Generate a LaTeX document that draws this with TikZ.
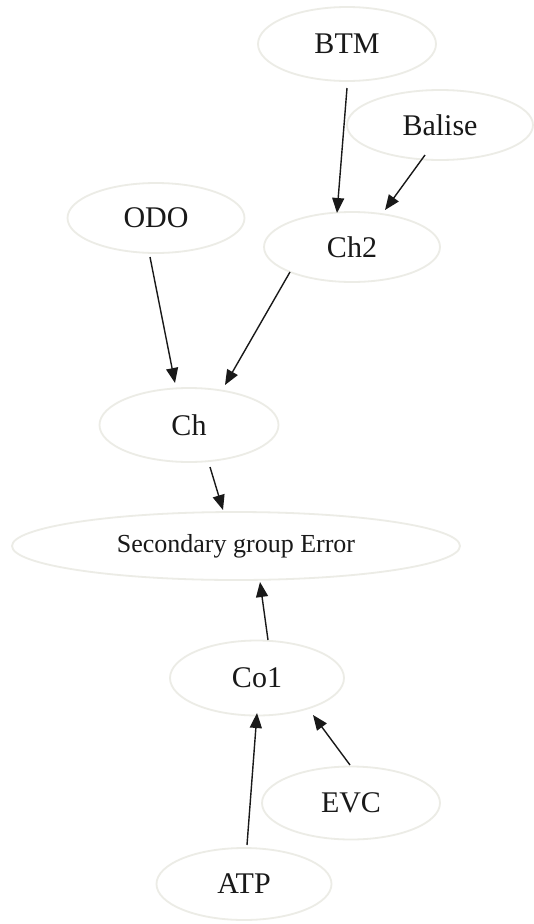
\documentclass[tikz,border=0pt]{standalone}
\usepackage{fontspec}
\setmainfont{Liberation Serif}
\usetikzlibrary{shapes.geometric,arrows.meta,calc}
\definecolor{ellcol}{RGB}{236,236,230}
\definecolor{txtcol}{RGB}{25,25,25}
\tikzset{
  ell/.style={ellipse, draw=ellcol, line width=1.8pt, inner sep=0pt, text=txtcol,
    font=\fontsize{30}{30}\selectfont},
  arr/.style={draw=black!90, line width=1.4pt, -{Triangle[length=15pt,width=12pt]}}
}
\begin{document}
\begin{tikzpicture}[x=1pt,y=-1pt]
\useasboundingbox[fill=white] (0,0) rectangle (534,924);
\node[ell, minimum width=178pt, minimum height=74pt] (btm) at (347,44) {BTM};
\node[ell, minimum width=186pt, minimum height=70pt] (balise) at (440,125) {Balise};
\node[ell, minimum width=176pt, minimum height=70pt] (ch2) at (352,247) {Ch2};
\node[ell, minimum width=177pt, minimum height=70pt] (odo) at (156,218) {ODO};
\node[ell, minimum width=179pt, minimum height=74pt] (ch) at (189,425) {Ch};
\node[ell, minimum width=448pt, minimum height=68pt, font=\fontsize{26}{26}\selectfont] (sec) at (236,546) {Secondary group Error};
\node[ell, minimum width=174pt, minimum height=75pt] (co1) at (257,678) {Co1};
\node[ell, minimum width=178pt, minimum height=73pt] (evc) at (351,803) {EVC};
\node[ell, minimum width=175pt, minimum height=72pt] (atp) at (244,884) {ATP};
% connectors
\draw[arr] ($(btm)+(0,44)$) -- ($(ch2)+(-15,-34)$);
\draw[arr] ($(balise)+(-15,30)$) -- ($(ch2)+(33,-37)$);
\draw[arr] ($(odo)+(-6,39)$) -- ($(ch)+(-14,-42)$);
\draw[arr] ($(ch2)+(-62,25)$) -- ($(ch)+(36,-40)$);
\draw[arr] ($(ch)+(21,42)$) -- ($(sec)+(-13,-36)$);
\draw[arr] ($(co1)+(11,-38)$) -- ($(sec)+(24,36)$);
\draw[arr] ($(atp)+(3,-39)$) -- ($(co1)+(0,35)$);
\draw[arr] ($(evc)+(-1,-38)$) -- ($(co1)+(56,37)$);
\end{tikzpicture}
\end{document}
